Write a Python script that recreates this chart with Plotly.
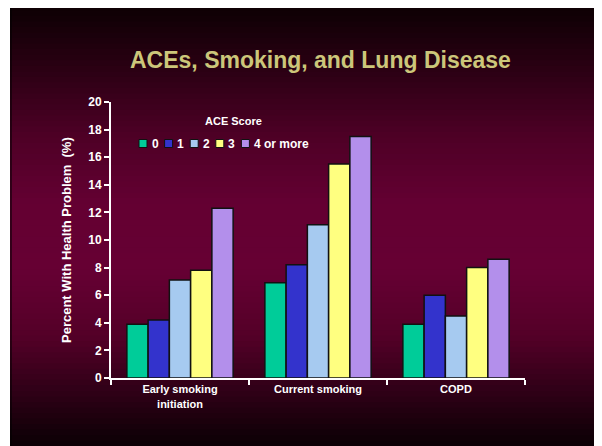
import plotly.graph_objects as go

# --- data ---
categories = ["Early smoking<br>initiation", "Current smoking", "COPD"]
ace_scores = ["0", "1", "2", "3", "4 or more"]
ace_colors = ["#00CC99", "#3333CC", "#A6CAF0", "#FFFF80", "#B38FEB"]
values = {
    "0": [3.9, 6.9, 3.9],
    "1": [4.2, 8.2, 6.0],
    "2": [7.1, 11.1, 4.5],
    "3": [7.8, 15.5, 8.0],
    "4 or more": [12.3, 17.5, 8.6],
}
y_ticks = list(range(0, 21, 2))

# the page body has an 8px margin, so the figure sits at (8, 8) in the window
OFF = 8
W, H = 602, 446
# plot area in window pixels
X0, X1, Y0, Y1 = 111, 525, 102, 378
PW, PH = X1 - X0, Y1 - Y0
L, T = X0 - OFF, Y0 - OFF
R, B = W - L - PW, H - T - PH


def px_x(wx):
    return (wx - X0) / PW


def px_y(wy):
    return (Y1 - wy) / PH


# slide background: vertical gradient black -> maroon -> black
stops = [(0.0, (14, 0, 4)), (0.03, (18, 0, 6)), (0.15, (44, 0, 20)),
         (0.30, (78, 0, 38)), (0.45, (100, 0, 50)), (0.60, (102, 0, 51)),
         (0.75, (84, 0, 40)), (0.88, (46, 0, 22)), (1.0, (10, 0, 4))]


def grad(t):
    for (t0, c0), (t1, c1) in zip(stops, stops[1:]):
        if t0 <= t <= t1:
            f = (t - t0) / (t1 - t0)
            return "rgb(%d,%d,%d)" % tuple(round(a + (b - a) * f) for a, b in zip(c0, c1))
    return "rgb(%d,%d,%d)" % stops[-1][1]


shapes = []
top, bot, n = 5, H, 80
for i in range(n):
    y0 = top + (bot - top) * i / n
    y1 = top + (bot - top) * (i + 1) / n + 2
    shapes.append(dict(type="rect", xref="paper", yref="paper", layer="below",
                       x0=px_x(10), x1=px_x(W + 10), y0=px_y(min(y1, H + 10)), y1=px_y(y0),
                       fillcolor=grad((i + 0.5) / n), line=dict(width=0)))
shapes.append(dict(type="rect", xref="paper", yref="paper", layer="below",
                   x0=px_x(599), x1=px_x(W + 10), y0=px_y(H + 10), y1=px_y(top),
                   fillcolor="#050002", line=dict(width=0)))
shapes.append(dict(type="rect", xref="paper", yref="paper", layer="below",
                   x0=px_x(10), x1=px_x(12), y0=px_y(H + 10), y1=px_y(top),
                   fillcolor="rgba(0,0,0,0.5)", line=dict(width=0)))

font = "Arial, Liberation Sans, sans-serif"
annotations = [
    dict(text="<b>ACEs, Smoking, and Lung Disease</b>", xref="paper", yref="paper",
         x=px_x(320), y=px_y(60), xanchor="center", yanchor="middle", showarrow=False,
         font=dict(size=23, color="#CCC67A", family=font)),
    dict(text="<b>ACE Score</b>", xref="paper", yref="paper",
         x=px_x(233), y=px_y(121), xanchor="center", yanchor="middle", showarrow=False,
         font=dict(size=11, color="white", family=font)),
    dict(text="<b>Percent With Health Problem&nbsp;&nbsp;(%)</b>", xref="paper", yref="paper",
         x=px_x(66), y=0.5, xanchor="center", yanchor="middle", textangle=-90,
         showarrow=False, font=dict(size=13, color="white", family=font)),
]

# hand-built compact legend (plotly's legend items are too wide)
sw_x, sw_y, sw_step, sw_size = 139, 139.5, 25.6, 8
for k, (score, color) in enumerate(zip(ace_scores, ace_colors)):
    x0 = sw_x + k * sw_step
    shapes.append(dict(type="rect", xref="paper", yref="paper",
                       x0=px_x(x0), x1=px_x(x0 + sw_size),
                       y0=px_y(sw_y + sw_size), y1=px_y(sw_y),
                       fillcolor=color, line=dict(color="#111111", width=1)))
    annotations.append(dict(text="<b>%s</b>" % score, xref="paper", yref="paper",
                            x=px_x(x0 + sw_size + 2.5), y=px_y(sw_y + sw_size / 2),
                            xanchor="left", yanchor="middle", showarrow=False,
                            font=dict(size=12, color="white", family=font)))

fig = go.Figure()
for score, color in zip(ace_scores, ace_colors):
    fig.add_trace(go.Bar(
        x=categories, y=values[score], name=score,
        marker=dict(color=color, line=dict(color="#111111", width=1.5)),
    ))

fig.update_layout(
    width=W, height=H,
    margin=dict(l=L, r=R, t=T, b=B),
    paper_bgcolor="white",
    plot_bgcolor="rgba(0,0,0,0)",
    barmode="group", bargap=0.23, bargroupgap=0,
    shapes=shapes,
    annotations=annotations,
    font=dict(family=font, color="white", size=12),
    showlegend=False,
)
fig.update_xaxes(
    showline=True, linecolor="white", linewidth=2, showgrid=False,
    ticks="outside", tickson="boundaries", ticklen=5, tickcolor="white", tickwidth=2,
    tickfont=dict(size=11, color="white", weight="bold"),
)
fig.update_yaxes(
    range=[0, 20], tickvals=y_ticks, showline=True, linecolor="white", linewidth=2,
    showgrid=False, zeroline=False, ticks="outside", ticklen=5, tickcolor="white",
    tickwidth=2, tickfont=dict(size=12, color="white", weight="bold"),
)

fig.write_html("out.html")
